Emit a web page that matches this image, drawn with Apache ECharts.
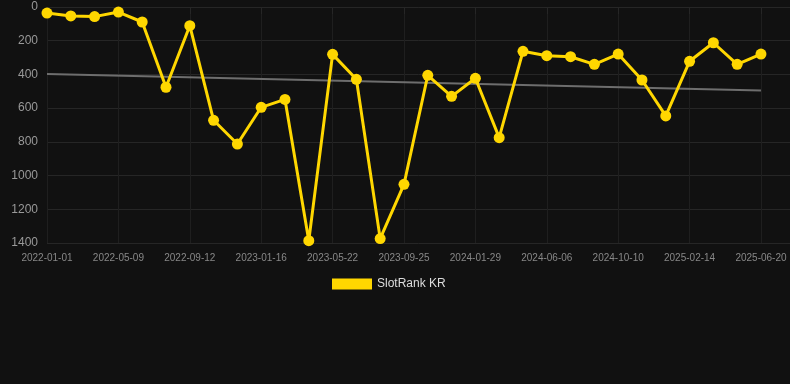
<!DOCTYPE html>
<html>
<head>
<meta charset="utf-8">
<title>SlotRank KR</title>
<script src="https://cdn.jsdelivr.net/npm/echarts@6/dist/echarts.min.js"></script>
<style>
  html, body { margin: 0; padding: 0; background: #111111; }
  #chart { width: 790px; height: 384px; }
</style>
</head>
<body>
<div id="chart"></div>
<script>
// dates (one per point, evenly spaced)
var dates = [
  '2022-01-01', '2022-02-12', '2022-03-26', '2022-05-09', '2022-06-20', '2022-08-01',
  '2022-09-12', '2022-10-24', '2022-12-05', '2023-01-16', '2023-02-27', '2023-04-10',
  '2023-05-22', '2023-07-03', '2023-08-14', '2023-09-25', '2023-11-06', '2023-12-18',
  '2024-01-29', '2024-03-12', '2024-04-24', '2024-06-06', '2024-07-18', '2024-08-29',
  '2024-10-10', '2024-11-21', '2025-01-02', '2025-02-14', '2025-03-28', '2025-05-09',
  '2025-06-20'
]
// rank values
var rankKR = [
  36, 53, 57, 30, 89, 476, 111, 672, 813, 595, 548, 1386, 281, 429, 1374, 1052,
  405, 530, 423, 775, 263, 289, 295, 340, 279, 433, 646, 322, 212, 340, 279
]
// trend line (start / end)
var trendValues = [397, 495]

var yTicks = { min: 0, max: 1400, interval: 200 }

var myChart = echarts.init(document.getElementById('chart'))

var lineData = rankKR.map(function (v, i) { return [i, v] })
var trendData = [[0, trendValues[0]], [dates.length - 1, trendValues[1]]]

var gridColor = '#262626'

var option = {
  backgroundColor: '#111111',
  animation: false,
  textStyle: { fontFamily: 'Arial, Liberation Sans, sans-serif' },
  grid: {
    left: 47,
    right: 0,
    top: 7,
    bottom: 141,
  },
  legend: {
    top: 273,
    left: 327,
    itemWidth: 40,
    itemHeight: 11,
    itemGap: 10,
    icon: 'rect',
    data: ['SlotRank KR'],
    textStyle: { color: '#dddddd', fontSize: 12 },
  },
  xAxis: {
    type: 'value',
    min: 0,
    max: 31.22,
    interval: 3,
    axisLine: { show: true, lineStyle: { color: gridColor } },
    axisTick: { show: true, length: 7, lineStyle: { color: gridColor } },
    splitLine: { show: true, lineStyle: { color: '#1f1f1f' } },
    axisLabel: {
      color: '#888888',
      fontSize: 10,
      margin: 10,
      showMaxLabel: false,
      formatter: function (v) {
        return dates[v] || ''
      },
    },
  },
  yAxis: {
    type: 'value',
    inverse: true,
    min: yTicks.min,
    max: yTicks.max,
    interval: yTicks.interval,
    axisLine: { show: false },
    axisTick: { show: false },
    splitLine: { lineStyle: { color: gridColor } },
    axisLabel: {
      color: '#999999',
      fontSize: 12,
      margin: 9,
      formatter: function (v) {
        return String(v)
      },
    },
  },
  series: [
    {
      name: 'SlotRank KR',
      type: 'line',
      data: lineData,
      color: '#FFD700',
      symbol: 'circle',
      symbolSize: 11,
      lineStyle: { width: 3, color: '#FFD700' },
      itemStyle: { color: '#FFD700' },
      z: 3,
    },
    {
      name: 'trend',
      type: 'line',
      data: trendData,
      symbol: 'none',
      lineStyle: { width: 2, color: '#6e6e6e' },
      z: 2,
    },
  ],
}

myChart.setOption(option)
window.addEventListener('resize', function () {
  myChart.resize()
})
</script>
</body>
</html>
